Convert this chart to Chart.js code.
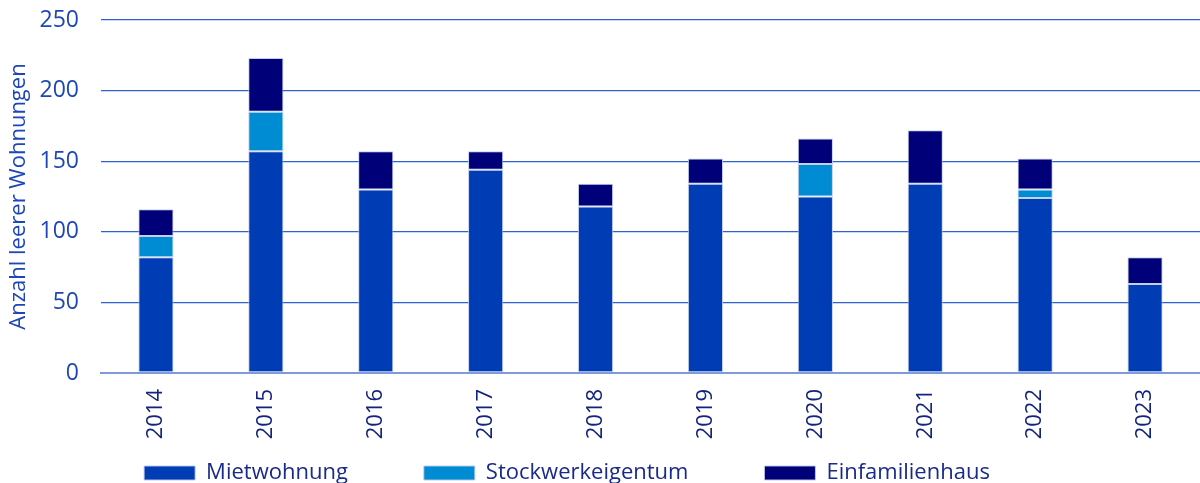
<!DOCTYPE html>
<html>
<head>
<meta charset="utf-8">
<script src="https://cdn.jsdelivr.net/npm/chart.js@4.4.0/dist/chart.umd.min.js"></script>
<style>
    html, body { margin: 0; padding: 0; background: #fff; overflow: hidden; }
    #wrap { position: relative; width: 1200px; height: 483px; }
</style>
</head>
<body>
<div id="wrap"><canvas id="leerwohnungenChart"></canvas></div>
<script>
// Leere Wohnungen pro Jahr, nach Typ
var years = ['2014', '2015', '2016', '2017', '2018', '2019', '2020', '2021', '2022', '2023'];
var mietwohnung = [82, 157, 130, 144, 118, 134, 125, 134, 124, 63];
var stockwerkeigentum = [15, 28, 0, 0, 0, 0, 23, 0, 6, 0];
var einfamilienhaus = [19, 38, 27, 13, 16, 18, 18, 38, 22, 19];
var yTicks = [0, 50, 100, 150, 200, 250];

var fontFamily = "'Open Sans', 'Noto Sans', sans-serif";
var legendGap = '\u2003\u2003\u2003'; // wider spacing between legend entries

function makeDataset(label, values, color) {
    return {
        label: label,
        data: values,
        backgroundColor: color,
        borderColor: 'rgba(190, 202, 238, 0.9)',
        borderWidth: 1,
        borderSkipped: false,
        categoryPercentage: 1.0,
        barPercentage: 0.32
    };
}

var ctx = document.getElementById('leerwohnungenChart').getContext('2d');

var chart = new Chart(ctx, {
    type: 'bar',
    data: {
        labels: years,
        datasets: [
            makeDataset('Mietwohnung', mietwohnung, '#003cb4'),
            makeDataset('Stockwerkeigentum', stockwerkeigentum, '#008cd2'),
            makeDataset('Einfamilienhaus', einfamilienhaus, '#000078')
        ]
    },
    options: {
        responsive: true,
        maintainAspectRatio: false,
        animation: false,
        layout: {
            padding: { top: 20, right: 0, bottom: -11, left: 0 }
        },
        scales: {
            x: {
                stacked: true,
                grid: { display: false },
                border: { display: true, color: '#7f9ad8', width: 2 },
                ticks: {
                    color: '#14247e',
                    font: { family: fontFamily, size: 22 },
                    minRotation: 90,
                    maxRotation: 90,
                    padding: 8
                },
                afterFit: function (scale) { scale.height = 79; }
            },
            y: {
                stacked: true,
                min: 0,
                max: 250,
                afterBuildTicks: function (scale) {
                    scale.ticks = yTicks.map(v => ({ value: v }));
                },
                grid: {
                    color: '#2f62cc',
                    lineWidth: 1.3,
                    drawTicks: true,
                    tickLength: 22,
                    tickColor: 'rgba(0, 0, 0, 0)'
                },
                border: { display: false },
                ticks: {
                    color: '#1d47b8',
                    font: { family: fontFamily, size: 23 },
                    padding: 0
                },
                title: {
                    display: true,
                    text: 'Anzahl leerer Wohnungen',
                    color: '#1d47b8',
                    font: { family: fontFamily, size: 22 },
                    padding: { top: 6, bottom: 0 }
                },
                afterFit: function (scale) { scale.width = 101; }
            }
        },
        plugins: {
            legend: {
                position: 'bottom',
                labels: {
                    boxWidth: 51,
                    boxHeight: 14,
                    padding: 10,
                    color: '#1a2a8a',
                    font: { family: fontFamily, size: 22 },
                    generateLabels: function (c) {
                        var items = Chart.defaults.plugins.legend.labels.generateLabels(c);
                        items.forEach(function (item) { item.text = item.text + legendGap; });
                        return items;
                    }
                }
            },
            tooltip: { enabled: false }
        }
    }
});
</script>
</body>
</html>
